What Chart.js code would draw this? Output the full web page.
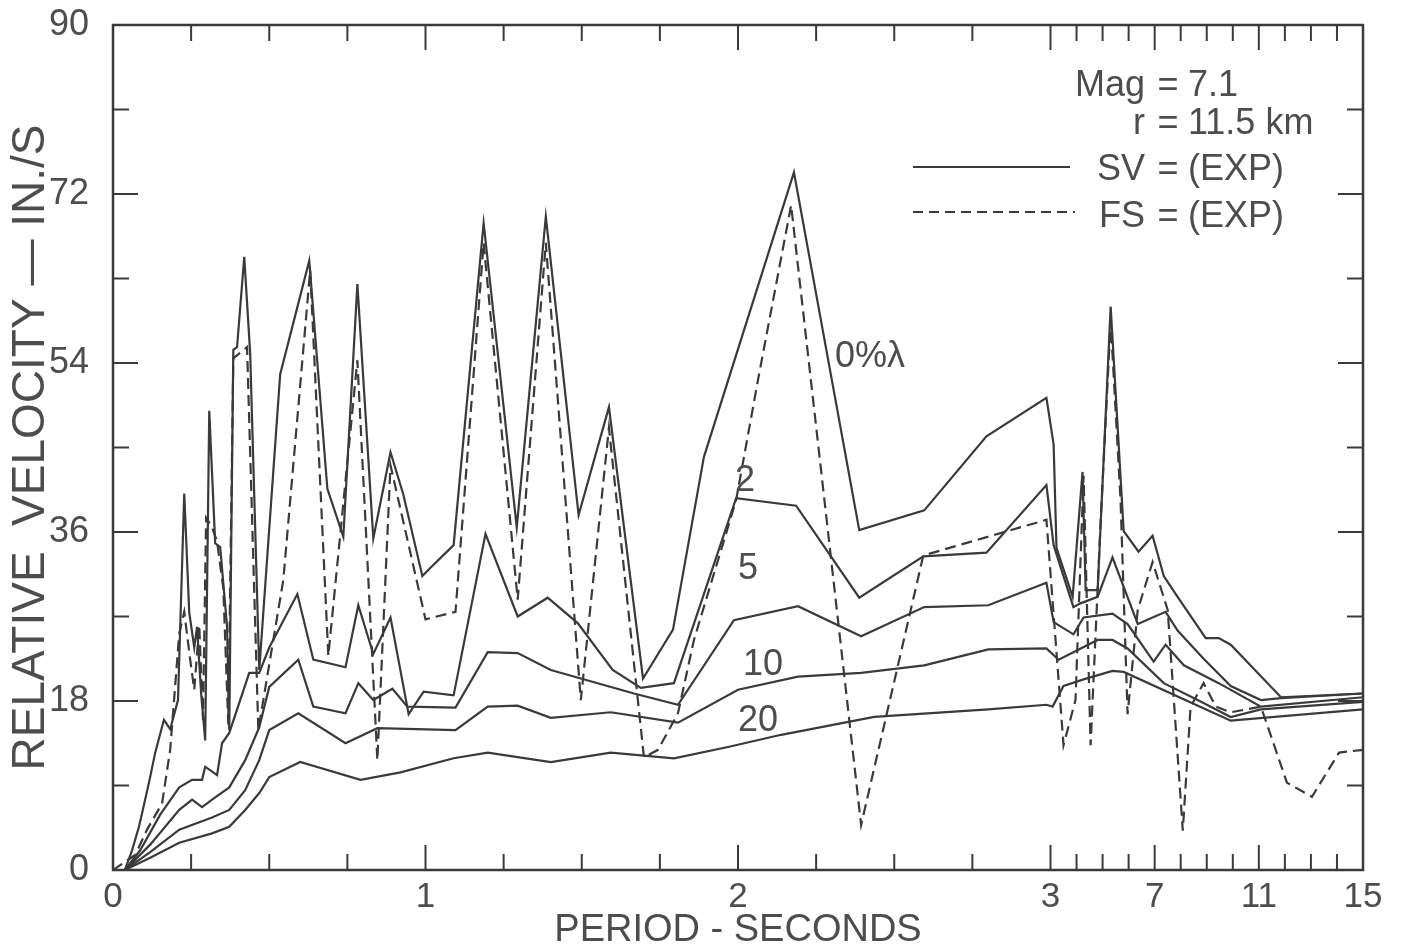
<!DOCTYPE html>
<html lang="en">
<head>
  <meta charset="UTF-8">
  <title>Relative velocity spectra</title>
  <script src="https://cdn.jsdelivr.net/npm/chart.js"></script>
  <style>
    html, body { margin: 0; padding: 0; background: #fff; }
    #wrap { width: 1403px; height: 945px; position: relative; }
  </style>
</head>
<body>
  <div id="wrap"><canvas id="chart"></canvas></div>
  <script>
    // x axis: period in seconds, 0-3 s linear, 3-15 s squeezed into the last unit
    const xTickPeriods = [0, 1, 2, 3, 7, 11, 15];
    const yTicks = [0, 18, 36, 54, 72, 90];

    // SV, 0% damping
    const sv0P = [0, 0.038, 0.061, 0.083, 0.103, 0.119, 0.135, 0.163, 0.183, 0.208, 0.228, 0.244, 0.260, 0.269, 0.282, 0.295, 0.308, 0.327, 0.343, 0.365, 0.372, 0.385, 0.397, 0.420, 0.439, 0.468, 0.535, 0.628, 0.686, 0.737, 0.782, 0.833, 0.888, 0.929, 0.990, 1.016, 1.090, 1.186, 1.292, 1.385, 1.490, 1.587, 1.696, 1.792, 1.891, 2.179, 2.388, 2.596, 2.795, 2.987, 3.12, 3.23, 3.85, 4.23, 4.35, 4.81, 5.31, 5.81, 6.38, 6.92, 7.35, 7.88, 8.96, 9.46, 9.92, 11.85, 15];
    const sv0V = [0, 0, 2.1, 4.6, 7.5, 9.9, 12.5, 16, 15, 18.1, 40.1, 27.4, 23.7, 25.9, 18.8, 13.8, 48.9, 34.8, 34.4, 25.9, 14.9, 55.4, 55.7, 65.3, 55, 21.3, 52.8, 64.9, 40.6, 35.5, 62.4, 35.3, 44.5, 40, 31.3, 32.2, 34.6, 68.9, 36.5, 69.6, 37.8, 49.3, 20.4, 25.6, 44, 74.3, 36.2, 38.3, 46.2, 50.3, 45.3, 34.3, 29.1, 42.4, 29.8, 29.8, 60, 36.1, 33.9, 35.6, 31.3, 29.1, 24.7, 24.7, 24, 18.4, 18.8];

    // SV, 2%
    const sv2P = [0, 0.038, 0.087, 0.151, 0.212, 0.253, 0.285, 0.295, 0.333, 0.349, 0.372, 0.436, 0.468, 0.5, 0.590, 0.641, 0.744, 0.785, 0.833, 0.888, 0.946, 0.994, 1.090, 1.192, 1.295, 1.391, 1.487, 1.599, 1.689, 1.795, 1.994, 2.186, 2.388, 2.593, 2.795, 2.987, 3.12, 3.88, 4.15, 4.81, 5.38, 6.35, 7.42, 7.88, 8.88, 9.92, 11.08, 11.85, 15];
    const sv2V = [0, 0, 2.1, 5.9, 8.8, 9.6, 9.6, 11, 10.1, 13.5, 14.6, 21, 21, 23.7, 29.4, 22.4, 21.6, 28.2, 23, 26.9, 16.6, 19, 18.6, 35.8, 27, 29, 26.3, 21.3, 19.4, 19.9, 39.6, 38.8, 29, 33.4, 33.8, 41, 34.6, 28, 28.4, 29.1, 33.3, 26.2, 27.5, 25.5, 22.5, 19.6, 18.1, 18.3, 18.8];

    // SV, 5%
    const sv5P = [0, 0.038, 0.119, 0.212, 0.253, 0.285, 0.317, 0.372, 0.423, 0.468, 0.5, 0.593, 0.641, 0.744, 0.785, 0.833, 0.894, 0.942, 1.096, 1.199, 1.295, 1.401, 1.667, 1.808, 1.987, 2.192, 2.394, 2.596, 2.801, 2.987, 3.12, 3.88, 4.27, 5.38, 5.96, 6.96, 7.42, 8.12, 9.46, 11.08, 15];
    const sv5V = [0, 0, 2.7, 6.4, 7.5, 6.7, 7.5, 8.8, 11.7, 15.2, 19.5, 22.4, 17.4, 16.7, 19.9, 18.1, 19.3, 17.4, 17.3, 23.2, 23.1, 21.3, 18.8, 17.6, 26.6, 28.1, 24.9, 28, 28.2, 30.6, 26.4, 25.1, 26.9, 27.3, 26.2, 22.2, 24, 21.8, 19.9, 17.4, 18.4];

    // SV, 10%
    const sv10P = [0, 0.038, 0.119, 0.212, 0.317, 0.372, 0.423, 0.468, 0.5, 0.593, 0.744, 0.846, 1.096, 1.199, 1.295, 1.401, 1.593, 1.808, 2.0, 2.192, 2.394, 2.596, 2.801, 2.987, 3.31, 3.88, 4.81, 5.38, 5.96, 7.35, 8.65, 9.92, 11.08, 15];
    const sv10V = [0, 0, 1.9, 4.3, 5.6, 6.4, 8.5, 11.7, 14.9, 16.7, 13.5, 15.1, 14.9, 17.4, 17.5, 16.2, 16.8, 15.7, 19.2, 20.6, 21, 21.8, 23.5, 23.6, 22.4, 23.2, 24.5, 24.5, 23.6, 19.9, 18.1, 16.3, 17.1, 17.9];

    // SV, 20%
    const sv20P = [0, 0.038, 0.119, 0.212, 0.317, 0.372, 0.423, 0.468, 0.5, 0.599, 0.792, 0.920, 1.090, 1.199, 1.401, 1.593, 1.795, 1.968, 2.138, 2.436, 2.801, 2.987, 3.08, 3.5, 4.27, 5.38, 5.81, 9.92, 15];
    const sv20V = [0, 0, 1.3, 2.9, 3.9, 4.6, 6.4, 8.2, 9.9, 11.5, 9.6, 10.4, 11.9, 12.5, 11.5, 12.5, 11.9, 13.1, 14.4, 16.3, 17.1, 17.6, 17.4, 19.6, 20.3, 21.2, 21.1, 15.9, 17.1];

    // FS, 0% (dashed)
    const fsP = [0, 0.071, 0.109, 0.157, 0.183, 0.212, 0.228, 0.247, 0.260, 0.276, 0.288, 0.298, 0.317, 0.333, 0.353, 0.369, 0.385, 0.429, 0.465, 0.545, 0.631, 0.689, 0.782, 0.846, 0.888, 1.0, 1.096, 1.186, 1.295, 1.385, 1.497, 1.587, 1.699, 1.744, 1.808, 1.859, 1.994, 2.064, 2.17, 2.394, 2.593, 2.987, 3.5, 3.96, 4.27, 4.54, 4.92, 5.31, 5.69, 5.96, 6.35, 6.92, 7.5, 8.08, 8.38, 8.88, 9.35, 9.92, 11.08, 12.08, 13.04, 14.08, 15];
    const fsV = [0, 1.6, 4.3, 7.1, 12.8, 25.2, 27.5, 22.4, 19.2, 26.1, 16, 37.5, 36.5, 35, 30, 15.5, 54.5, 55.7, 14.9, 30.9, 63.9, 22.8, 54.3, 11.7, 43.1, 26.7, 27.5, 66.8, 28.8, 66.8, 18.1, 47.1, 12, 12.8, 16.7, 24.5, 39.4, 52.2, 70.8, 4.8, 33.5, 37.3, 13.3, 18.1, 42, 13.3, 36.8, 58.5, 39.4, 16.6, 27.7, 32.8, 27.7, 4.2, 17.4, 19.9, 17.4, 16.8, 17.4, 9.3, 7.8, 12.5, 12.8];

    const curveLabels = ['0%λ', '2', '5', '10', '20'];

    const INK = '#3a3a3a';
    const TEXT = '#4d4d4d';
    const FONT = "'Liberation Sans', Arial, sans-serif";

    const toPos = p => (p <= 3 ? p : 3 + (p - 3) / 12);
    const pts = (P, V) => P.map((p, i) => ({ x: toPos(p), y: V[i] }));

    // frame with inward ticks on all four sides, plus the key and curve labels
    const framePlugin = {
      id: 'frame',
      beforeDraw(chart) {
        const ctx = chart.ctx;
        ctx.save();
        ctx.fillStyle = '#fff';
        ctx.fillRect(0, 0, chart.width, chart.height);
        ctx.restore();
      },
      afterDraw(chart) {
        const { ctx, chartArea: a, scales: { x, y } } = chart;
        const seg = (x1, y1, x2, y2) => { ctx.beginPath(); ctx.moveTo(x1, y1); ctx.lineTo(x2, y2); ctx.stroke(); };
        ctx.save();
        ctx.strokeStyle = INK;
        ctx.lineWidth = 2.5;
        ctx.strokeRect(a.left, a.top, a.right - a.left, a.bottom - a.top);
        ctx.lineWidth = 2;

        const xTick = (p, len) => {
          const px = x.getPixelForValue(toPos(p));
          seg(px, a.bottom, px, a.bottom - len);
          seg(px, a.top, px, a.top + len);
        };
        [1, 2, 3, 7, 11].forEach(p => xTick(p, 25));
        for (let p = 0.25; p < 3; p += 0.25) if (Math.abs(p - Math.round(p)) > 0.01) xTick(p, 16);
        for (let p = 4; p < 15; p++) if (p !== 7 && p !== 11) xTick(p, 16);

        const yTick = (v, len) => {
          const py = y.getPixelForValue(v);
          seg(a.left, py, a.left + len, py);
          seg(a.right, py, a.right - len, py);
        };
        [18, 36, 54, 72].forEach(v => yTick(v, 25));
        [9, 27, 45, 63, 81].forEach(v => yTick(v, 16));

        // curve labels
        ctx.fillStyle = TEXT;
        ctx.font = '36px ' + FONT;
        ctx.textBaseline = 'alphabetic';
        ctx.textAlign = 'left';
        const labelAt = [[2.31, 53.6], [1.99, 40.4], [2.0, 31.0], [2.016, 20.8], [2.0, 14.8]];
        curveLabels.forEach((t, i) => {
          ctx.fillText(t, x.getPixelForValue(toPos(labelAt[i][0])), y.getPixelForValue(labelAt[i][1]));
        });

        // key block, top right
        const rows = [['Mag', '7.1', 96], ['r', '11.5 km', 134], ['SV', '(EXP)', 180], ['FS', '(EXP)', 227]];
        rows.forEach(([k, val, by]) => {
          ctx.textAlign = 'right'; ctx.fillText(k, 1145, by);
          ctx.textAlign = 'center'; ctx.fillText('=', 1168, by);
          ctx.textAlign = 'left'; ctx.fillText(val, 1188, by);
        });
        ctx.strokeStyle = INK;
        ctx.lineWidth = 2;
        seg(913, 167, 1070, 167);
        ctx.setLineDash([10, 6]);
        seg(913, 212, 1075, 212);
        ctx.restore();
      }
    };

    const solid = (data) => ({ data, borderColor: INK, borderWidth: 2.2, pointRadius: 0, tension: 0, fill: false });

    new Chart(document.getElementById('chart'), {
      type: 'line',
      data: {
        datasets: [
          { data: pts(fsP, fsV), borderColor: INK, borderWidth: 2.2, borderDash: [11, 6], pointRadius: 0, tension: 0, fill: false },
          solid(pts(sv0P, sv0V)),
          solid(pts(sv2P, sv2V)),
          solid(pts(sv5P, sv5V)),
          solid(pts(sv10P, sv10V)),
          solid(pts(sv20P, sv20V))
        ]
      },
      options: {
        responsive: true,
        maintainAspectRatio: false,
        animation: false,
        layout: { padding: { top: 25, right: 40, left: 0, bottom: 0 } },
        plugins: { legend: { display: false }, tooltip: { enabled: false } },
        scales: {
          x: {
            type: 'linear', min: 0, max: 4,
            grid: { display: false }, border: { display: false },
            afterBuildTicks: s => { s.ticks = xTickPeriods.map(p => ({ value: toPos(p) })); },
            afterFit: s => { s.height = 75; s.paddingLeft = 0; s.paddingRight = 0; },
            ticks: {
              autoSkip: false, maxRotation: 0, padding: -2, color: TEXT,
              font: { family: FONT, size: 35 },
              callback: (v, i) => String(xTickPeriods[i])
            },
            title: {
              display: true, text: 'PERIOD - SECONDS', color: TEXT,
              font: { family: FONT, size: 38, lineHeight: 1 }, padding: { top: 0, bottom: -5 }
            }
          },
          y: {
            min: 0, max: 90,
            grid: { display: false }, border: { display: false },
            afterBuildTicks: s => { s.ticks = yTicks.map(v => ({ value: v })); },
            afterFit: s => { s.width = 113; s.paddingTop = 0; s.paddingBottom = 0; },
            ticks: { padding: 16, color: TEXT, font: { family: FONT, size: 36 } },
            title: {
              display: true, text: 'RELATIVE  VELOCITY — IN./S', color: TEXT,
              font: { family: FONT, size: 46, lineHeight: 1 }, padding: { top: 8, bottom: 0 }
            }
          }
        }
      },
      plugins: [framePlugin]
    });
  </script>
</body>
</html>
